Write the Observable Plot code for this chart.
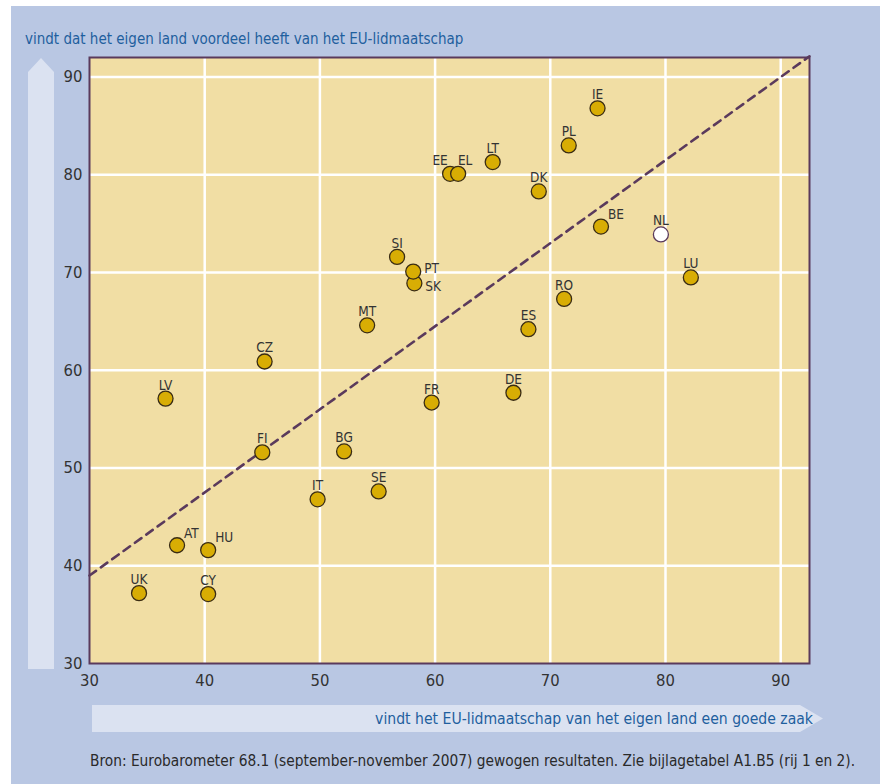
<!DOCTYPE html>
<html><head><meta charset="utf-8">
<script src="https://cdn.jsdelivr.net/npm/d3@7"></script>
<script src="https://cdn.jsdelivr.net/npm/@observablehq/plot@0.6"></script>
<style>
body{margin:0;background:#fff;}
#chart svg{display:block;}
</style>
</head><body><div id="chart"></div>
<script>
// ---- data ----
const countries = ["UK","CY","AT","HU","IT","SE","FI","BG","LV","FR","DE","CZ","ES","MT","RO","SK","PT","SI","LU","NL","BE","DK","EE","EL","LT","PL","IE"];
// x: vindt het EU-lidmaatschap van het eigen land een goede zaak (%)
const goedeZaak = [34.3,40.3,37.6,40.3,49.8,55.1,45.0,52.1,36.6,59.7,66.8,45.2,68.1,54.1,71.2,58.2,58.1,56.7,82.2,79.6,74.4,69.0,61.3,62.0,65.0,71.6,74.1];
// y: vindt dat het eigen land voordeel heeft van het EU-lidmaatschap (%)
const voordeel = [37.2,37.1,42.1,41.6,46.8,47.6,51.6,51.7,57.1,56.7,57.7,60.9,64.2,64.6,67.3,68.9,70.1,71.6,69.5,73.9,74.7,78.3,80.1,80.1,81.3,83.0,86.8];
const xTicks = [30,40,50,60,70,80,90];
const yTicks = [30,40,50,60,70,80,90];
const xDomain = [30, 92.5];
const yDomain = [30, 92];
// trend line
const trendIntercept = 13.5;
const trendSlope = 0.85;
const highlighted = ["NL"];
// label placement groups
const labelRightUp = ["PT"];
const labelRightDown = ["SK"];
const labelUpperRight = ["AT","HU","BE"];
const labelShiftLeft = ["EE"];
const labelShiftRight = ["EL"];

const titleY = "vindt dat het eigen land voordeel heeft van het EU-lidmaatschap";
const titleX = "vindt het EU-lidmaatschap van het eigen land een goede zaak";
const caption = "Bron: Eurobarometer 68.1 (september-november 2007) gewogen resultaten. Zie bijlagetabel A1.B5 (rij 1 en 2).";

// ---- build table ----
const data = countries.map((c,i)=>({land:c, x:goedeZaak[i], y:voordeel[i]}));
const trend = xDomain.map(x=>({x, y: trendIntercept + trendSlope*x}));
const special = new Set([...labelRightUp, ...labelRightDown, ...labelUpperRight, ...labelShiftLeft, ...labelShiftRight]);
const pick = list => data.filter(d => list.includes(d.land));

const FONT = "'Liberation Sans Narrow','DejaVu Sans Condensed',sans-serif";
const BLUE_BG = "#b9c7e3";
const PURPLE = "#5a3a5c";
const TXT = "#333333";
const LFS = 13.5;

const W = 880, H = 784;
const plot = Plot.plot({
  width: W, height: H,
  marginLeft: 89, marginRight: 71, marginTop: 57, marginBottom: 121,
  style: {background: "transparent", fontFamily: FONT, fontSize: "16.5px", color: TXT, overflow: "visible"},
  x: {domain: xDomain, ticks: xTicks, tickSize: 0, tickPadding: 11, label: null, tickFormat: d=>String(d)},
  y: {domain: yDomain, ticks: yTicks, tickSize: 0, tickPadding: 7, label: null, tickFormat: d=>String(d)},
  marks: [
    Plot.frame({fill: "#f1dea4"}),
    Plot.gridX(xTicks.filter(t=>t>30), {stroke: "#ffffff", strokeOpacity: 1, strokeWidth: 2.5}),
    Plot.gridY(yTicks.filter(t=>t>30), {stroke: "#ffffff", strokeOpacity: 1, strokeWidth: 2.5}),
    Plot.line(trend, {x: "x", y: "y", stroke: PURPLE, strokeWidth: 2.6, strokeDasharray: "8,6"}),
    Plot.frame({stroke: PURPLE, strokeWidth: 2}),
    Plot.dot(data, {x: "x", y: "y", r: 7.5,
      fill: d => highlighted.includes(d.land) ? "#ffffff" : "#d8ad04",
      stroke: d => highlighted.includes(d.land) ? PURPLE : "#3a2c14",
      strokeWidth: 1.3}),
    Plot.text(data.filter(d=>!special.has(d.land)), {x:"x", y:"y", text:"land", dy:-9, lineAnchor:"bottom", fontSize:LFS, fill:TXT}),
    Plot.text(pick(labelShiftLeft), {x:"x", y:"y", text:"land", dx:-10, dy:-9, lineAnchor:"bottom", fontSize:LFS, fill:TXT}),
    Plot.text(pick(labelShiftRight), {x:"x", y:"y", text:"land", dx:7, dy:-9, lineAnchor:"bottom", fontSize:LFS, fill:TXT}),
    Plot.text(pick(labelRightUp), {x:"x", y:"y", text:"land", dx:11, dy:-3, textAnchor:"start", fontSize:LFS, fill:TXT}),
    Plot.text(pick(labelRightDown), {x:"x", y:"y", text:"land", dx:11, dy:3, textAnchor:"start", fontSize:LFS, fill:TXT}),
    Plot.text(pick(labelUpperRight), {x:"x", y:"y", text:"land", dx:7, dy:-12, textAnchor:"start", fontSize:LFS, fill:TXT})
  ]
});

// ---- decorations ----
const svg = d3.select(plot);
const bg = svg.insert("g", ":first-child");
bg.append("rect").attr("x", 11).attr("y", 6).attr("width", W-11).attr("height", H-6).attr("fill", BLUE_BG);
// vertical arrow (y direction)
bg.append("polygon").attr("points", "28,669 28,72 41,58 54,72 54,669").attr("fill", "#dbe2f1");
// horizontal arrow (x direction)
bg.append("polygon").attr("points", "92,705 800,705 823,718.5 800,732 92,732").attr("fill", "#dbe2f1");

svg.append("text").attr("x", 25).attr("y", 44).attr("text-anchor", "start").attr("fill", "#1f5f9e")
  .style("font-family", FONT).style("font-size", "15px").text(titleY);
svg.append("text").attr("x", 813).attr("y", 724).attr("text-anchor", "end").attr("fill", "#1f5f9e")
  .style("font-family", FONT).style("font-size", "15.6px").text(titleX);
svg.append("text").attr("x", 90).attr("y", 766).attr("text-anchor", "start").attr("fill", "#2a2a2a")
  .style("font-family", FONT).style("font-size", "15.3px").text(caption);

document.getElementById("chart").appendChild(plot);
</script>
</body></html>
